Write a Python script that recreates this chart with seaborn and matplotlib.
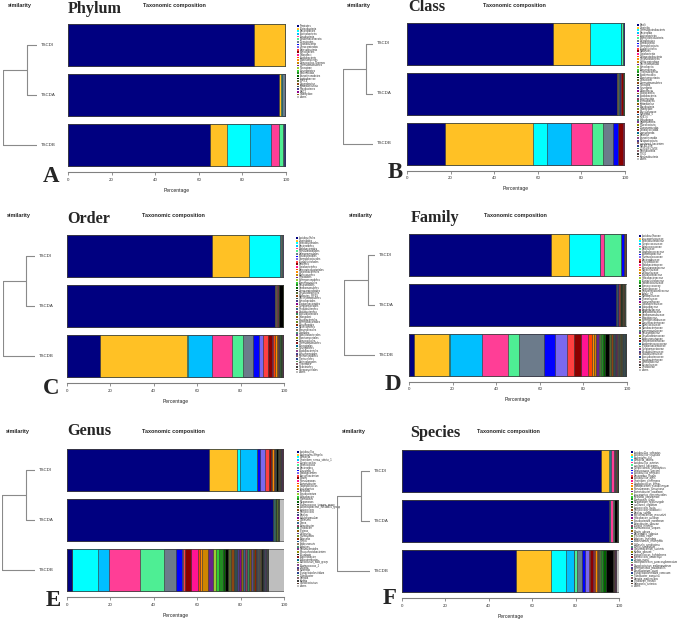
import pandas as pd
import matplotlib
matplotlib.use("Agg")
import matplotlib.pyplot as plt
import seaborn as sns

# ----------------------------------
# Samples and colours
# ----------------------------------
samples = ["TSCDI", "TSCDA", "TSCDB"]

base_colors = [
    "#000080", "#FFC125", "#00FFFF", "#00BFFF", "#FF3E96", "#4EEE94", "#6C7B8B", "#0000FF", "#7B68EE", "#FF4040",
    "#8B0000", "#FF1493", "#FF4500", "#FF8C00", "#CD8500", "#68228B", "#9ACD32", "#32CD32", "#228B22", "#006400",
    "#000000", "#556B2F", "#8B4513", "#2F4F4F", "#483D8B", "#8B008B", "#8B6914", "#36648B", "#8B3A62", "#2E8B57",
    "#8B5A00", "#5D478B", "#698B22", "#8B2500", "#104E8B", "#8B7355", "#458B74", "#7A378B", "#8B8B00", "#1C1C1C",
    "#8B1A1A", "#00688B", "#6E8B3D", "#8B4789", "#473C8B", "#8B5F65", "#27408B", "#548B54", "#8B636C", "#3D3D3D",
    "#5C4033",
]
others_color = "#BEBEBE"

# ----------------------------------
# Phylum
# ----------------------------------
phylum_taxa = [
    "Firmicutes", "Proteobacteria", "Bacteroidetes", "Actinobacteria", "Fusobacteria",
    "Epsilonbacteraeota", "Tenericutes", "Cyanobacteria", "Verrucomicrobia", "Patescibacteria",
    "Spirochaetes", "Chloroflexi", "Acidobacteria", "Planctomycetes", "Deinococcus-Thermus",
    "Gemmatimonadetes", "Nitrospirae", "Synergistetes", "Elusimicrobia", "Armatimonadetes",
    "Lentisphaerae", "WPS-2", "Dependentiae", "Kiritimatiellaeota", "Fibrobacteres",
    "BRC1", "Chlamydiae", "others",
]
phylum_tscdi = [85.2, 14.2, 0.05, 0.06, 0.04, 0.05, 0.1, 0.02, 0.02, 0.02,
                0.01, 0.01, 0.01, 0.01, 0.01, 0.01, 0.01, 0.01, 0.01, 0.01,
                0.01, 0.01, 0.01, 0.01, 0.01, 0.01, 0.01, 0.07]
phylum_tscda = [97.0, 0.9, 0.1, 0.15, 0.05, 0.05, 1.4, 0.05, 0.03, 0.02,
                0.01, 0.01, 0.01, 0.01, 0.01, 0.01, 0.01, 0.01, 0.01, 0.01,
                0.01, 0.01, 0.01, 0.01, 0.01, 0.01, 0.01, 0.08]
phylum_tscdb = [65.2, 7.6, 10.9, 9.2, 4.0, 1.6, 0.6, 0.3, 0.2, 0.1,
                0.01, 0.01, 0.01, 0.01, 0.01, 0.01, 0.01, 0.01, 0.01, 0.01,
                0.01, 0.01, 0.01, 0.01, 0.01, 0.01, 0.01, 0.13]

# ----------------------------------
# Class
# ----------------------------------
class_taxa = [
    "Bacilli", "Clostridia", "Gammaproteobacteria", "Bacteroidia", "Actinobacteria",
    "Alphaproteobacteria", "Negativicutes", "Fusobacteriia", "Campylobacteria", "Erysipelotrichia",
    "Mollicutes", "Coriobacteriia", "Deltaproteobacteria", "Oxyphotobacteria", "Verrucomicrobiae",
    "Saccharimonadia", "Spirochaetia", "Anaerolineae", "Thermoleophilia", "Acidimicrobiia",
    "Planctomycetacia", "Deinococci", "Gemmatimonadetes", "Nitrospira", "Synergistia",
    "Chloroflexia", "Blastocatellia", "Acidobacteriia", "Elusimicrobia", "Lentisphaeria",
    "Kiritimatiellae", "Fibrobacteria", "Chlamydiae", "Phycisphaerae", "Subgroup_6",
    "KD4-96", "Holophagae", "Ignavibacteria", "Rubrobacteria", "Thermomicrobia",
    "Dehalococcoidia", "Limnochordia", "Babeliae", "Armatimonadia", "Melainabacteria",
    "uncultured_bacterium", "MB-A2-108", "JG30-KF-CM66", "Parcubacteria", "TK10",
    "Ktedonobacteria", "others",
]
class_tscdi = [67.0, 17.0, 14.0, 0.1, 0.1, 1.0, 0.1, 0.05, 0.3, 0.05,
               0.05, 0.02, 0.02, 0.01, 0.01, 0.01, 0.01, 0.01, 0.01, 0.01,
               0.01, 0.01, 0.01, 0.01, 0.01, 0.005, 0.005, 0.005, 0.005, 0.005,
               0.005, 0.005, 0.005, 0.005, 0.005, 0, 0, 0, 0, 0,
               0, 0, 0, 0, 0, 0, 0, 0, 0, 0,
               0, 0.04]
class_tscda = [96.5, 0.3, 0.2, 0.1, 0.05, 0.1, 0.2, 0.05, 0.05, 0.7,
               0.8, 0.1, 0.05, 0.05, 0.02, 0.02, 0.02, 0.02, 0.02, 0.3,
               0.1, 0.05, 0.05, 0.02, 0.02, 0.01, 0.01, 0.01, 0.01, 0.01,
               0.01, 0.01, 0.01, 0, 0, 0, 0, 0, 0, 0,
               0, 0, 0, 0, 0, 0, 0, 0, 0, 0,
               0, 0.03]
class_tscdb = [17.5, 40.3, 6.5, 11.0, 9.5, 5.0, 4.5, 2.3, 0.2, 0.2,
               2.0, 0.4, 0.05, 0.05, 0.05, 0.05, 0.03, 0.03, 0.02, 0.02,
               0.1, 0.02, 0.02, 0.02, 0.01, 0.01, 0.01, 0.01, 0.01, 0.01,
               0.01, 0.01, 0.01, 0.01, 0, 0, 0, 0, 0, 0,
               0, 0, 0, 0, 0, 0, 0, 0, 0, 0,
               0, 0.04]

# ----------------------------------
# Order
# ----------------------------------
order_taxa = [
    "Lactobacillales", "Clostridiales", "Enterobacteriales", "Bacteroidales", "Bifidobacteriales",
    "Pseudomonadales", "Selenomonadales", "Fusobacteriales", "Campylobacterales", "Erysipelotrichales",
    "Bacillales", "Coriobacteriales", "Betaproteobacteriales", "Corynebacteriales", "Micrococcales",
    "Rhizobiales", "Sphingomonadales", "Aeromonadales", "Pasteurellales", "Xanthomonadales",
    "Verrucomicrobiales", "Desulfovibrionales", "Mollicutes_RF39", "Saccharimonadales", "Spirochaetales",
    "Propionibacteriales", "Streptomycetales", "Rhodobacterales", "Caulobacterales", "Acetobacterales",
    "Chloroplast", "Flavobacteriales", "Sphingobacteriales", "Cytophagales", "Myxococcales",
    "Anaerolineales", "Gaiellales", "Solirubrobacterales", "Planctomycetales", "Deinococcales",
    "Gemmatimonadales", "Nitrospirales", "Synergistales", "Acidobacteriales", "Haloplasmatales",
    "Pyrinomonadales", "Tissierellales", "Chitinophagales", "Thermales", "Rickettsiales",
    "Oceanospirillales", "others",
]
order_tscdi = [67.0, 17.0, 14.0, 0.1, 0.3, 0.7, 0.1, 0.05, 0.2, 0.05,
               0.05, 0.05, 0.03, 0.03, 0.02, 0.02, 0.02, 0.02, 0.02, 0.02,
               0.05, 0.01, 0.01, 0.01, 0.01, 0.01, 0.01, 0.01, 0.01, 0.01,
               0.01, 0.01, 0.01, 0.005, 0.005, 0, 0, 0, 0, 0,
               0, 0, 0, 0, 0, 0, 0, 0, 0, 0,
               0, 0.01]
order_tscda = [96.0, 0.2, 0.1, 0.05, 0.5, 0.05, 0.05, 0.02, 0.02, 0.05,
               0.1, 0.05, 0.05, 0.05, 0.03, 0.03, 0.02, 0.02, 0.02, 0.3,
               2.0, 0.1, 0.05, 0.02, 0.02, 0.01, 0.01, 0.01, 0.01, 0.01,
               0.01, 0.01, 0.01, 0.01, 0, 0, 0, 0, 0, 0,
               0, 0, 0, 0, 0, 0, 0, 0, 0, 0,
               0, 0.02]
order_tscdb = [15.0, 40.5, 0.3, 11.2, 9.0, 5.0, 4.5, 3.0, 2.0, 2.0,
               2.0, 0.3, 1.0, 1.0, 0.4, 0.4, 0.2, 0.2, 0.2, 0.2,
               0.3, 0.2, 0.2, 0.1, 0.1, 0.1, 0.05, 0.05, 0.05, 0.05,
               0.05, 0.05, 0.03, 0.03, 0.02, 0.02, 0.02, 0.02, 0.01, 0.01,
               0.01, 0.01, 0.01, 0.01, 0, 0, 0, 0, 0, 0,
               0, 0.1]

# ----------------------------------
# Family
# ----------------------------------
family_taxa = [
    "Lactobacillaceae", "Leuconostocaceae", "Enterobacteriaceae", "Streptococcaceae", "Enterococcaceae",
    "Bacillaceae", "Staphylococcaceae", "Lachnospiraceae", "Ruminococcaceae", "Bacteroidaceae",
    "Prevotellaceae", "Bifidobacteriaceae", "Pseudomonadaceae", "Moraxellaceae", "Veillonellaceae",
    "Fusobacteriaceae", "Helicobacteraceae", "Erysipelotrichaceae", "Carnobacteriaceae", "Aerococcaceae",
    "Clostridiaceae_1", "Peptostreptococcaceae", "Family_XI", "Muribaculaceae", "Rikenellaceae",
    "Tannerellaceae", "Coriobacteriaceae", "Atopobiaceae", "Eggerthellaceae", "Burkholderiaceae",
    "Xanthomonadaceae", "Rhizobiaceae", "Sphingomonadaceae", "Corynebacteriaceae", "Micrococcaceae",
    "Microbacteriaceae", "Aeromonadaceae", "Pasteurellaceae", "Desulfovibrionaceae", "Akkermansiaceae",
    "Christensenellaceae", "Acidaminococcaceae", "Propionibacteriaceae", "Streptomycetaceae", "Rhodobacteraceae",
    "Caulobacteraceae", "Acetobacteraceae", "Flavobacteriaceae", "Weeksellaceae", "Nocardiaceae",
    "Dietziaceae", "others",
]
family_tscdi = [65.2, 8.3, 14.0, 0.3, 1.5, 8.0, 0.1, 1.0, 0.1, 0.05,
                0.05, 0.05, 0.05, 0.4, 0.2, 0.05, 0.05, 0.05, 0.03, 0.03,
                0.2, 0.02, 0.02, 0.02, 0.02, 0.01, 0.01, 0.01, 0.01, 0.01,
                0.01, 0.01, 0.01, 0.01, 0.01, 0.005, 0.005, 0, 0, 0,
                0, 0, 0, 0, 0, 0, 0, 0, 0, 0,
                0, 0.02]
family_tscda = [95.0, 0.1, 0.05, 0.05, 0.3, 0.05, 0.05, 0.05, 0.05, 0.05,
                0.3, 0.5, 0.05, 0.05, 0.05, 0.1, 0.05, 0.1, 0.05, 0.3,
                0.6, 0.3, 0.2, 0.1, 0.1, 0.1, 0.05, 0.05, 0.05, 0.05,
                0.03, 0.03, 0.02, 0.02, 0.02, 0.02, 0.01, 0.01, 0.01, 0.01,
                0.01, 0.01, 0, 0, 0, 0, 0, 0, 0, 0,
                0, 0.9]
family_tscdb = [2.5, 16.0, 0.4, 14.6, 12.0, 5.0, 11.5, 5.0, 5.5, 3.0,
                3.5, 3.0, 2.0, 1.0, 0.8, 1.2, 0.7, 0.6, 0.8, 1.0,
                1.5, 1.2, 1.0, 0.8, 0.5, 0.4, 0.4, 0.3, 0.3, 0.3,
                0.3, 0.3, 0.2, 0.2, 0.2, 0.2, 0.2, 0.1, 0.1, 0.1,
                0.1, 0.1, 0.1, 0.05, 0.05, 0.05, 0.05, 0.05, 0.05, 0.05,
                0.05, 0.6]

# ----------------------------------
# Genus
# ----------------------------------
genus_taxa = [
    "Lactobacillus", "Escherichia-Shigella", "Weissella", "Clostridium_sensu_stricto_1", "Streptococcus",
    "Enterococcus", "Bacteroides", "Prevotella_9", "Bifidobacterium", "Faecalibacterium",
    "Blautia", "Pseudomonas", "Acinetobacter", "Staphylococcus", "Leuconostoc",
    "Klebsiella", "Fusobacterium", "Helicobacter", "Romboutsia", "Megamonas",
    "Ruminococcus_torques_group", "Lachnospiraceae_NK4A136_group", "Lactococcus", "Pediococcus", "Bacillus",
    "Subdoligranulum", "Collinsella", "Dorea", "Enterobacter", "Citrobacter",
    "Proteus", "Veillonella", "Haemophilus", "Neisseria", "Rothia",
    "Akkermansia", "Alistipes", "Parabacteroides", "Phascolarctobacterium", "Roseburia",
    "Agathobacter", "Fusicatenibacter", "Eubacterium_hallii_group", "Ruminococcus_2", "Dialister",
    "Sutterella", "Erysipelatoclostridium", "Turicibacter", "Serratia", "Kurthia",
    "Carnobacterium", "others",
]
genus_tscdi = [65.3, 12.9, 1.6, 7.8, 0.0, 0.0, 0.0, 1.4, 2.3, 1.7,
               1.0, 0.2, 0.5, 0.5, 0.3, 0.3, 0.1, 0.1, 0.1, 0.2,
               0.8, 0.6, 0.5, 0.3, 0.3, 0.2, 0.2, 0.1, 0.1, 0.1,
               0.05, 0.05, 0.05, 0.05, 0.05, 0.05, 0.02, 0.02, 0.02, 0.02,
               0.02, 0.02, 0.01, 0.01, 0.01, 0.01, 0.01, 0.01, 0, 0,
               0, 0.02]
genus_tscda = [94.8, 0.05, 0.7, 0.05, 0, 0.05, 0, 0, 0.02, 0.02,
               0.02, 0.02, 0.02, 0.02, 0.02, 0.02, 0.02, 0.02, 0.02, 0.3,
               0.3, 0.7, 0.1, 0.05, 0.05, 0.02, 0.02, 0.02, 0.02, 0.02,
               0.01, 0.01, 0.01, 0.01, 0.01, 0.01, 0, 0, 0, 0,
               0, 0, 0, 0, 0, 0, 0, 0, 0, 0,
               0, 2.5]
genus_tscdb = [2.5, 0.0, 12.0, 5.0, 14.0, 11.0, 5.7, 2.6, 0.7, 1.0,
               2.5, 3.3, 1.0, 1.0, 2.5, 2.4, 1.5, 1.5, 1.5, 1.2,
               1.5, 1.4, 1.3, 1.2, 1.1, 1.0, 0.9, 0.9, 0.9, 0.8,
               0.8, 0.8, 0.8, 0.6, 0.6, 0.6, 0.5, 0.5, 0.5, 0.5,
               0.3, 0.3, 0.3, 0.3, 0.2, 0.2, 0.2, 0.2, 0.2, 0.2,
               0.2, 7.3]

# ----------------------------------
# Species
# ----------------------------------
species_taxa = [
    "Lactobacillus_salivarius", "Lactobacillus_crispatus", "Escherichia_coli", "Weissella_cibaria",
    "Lactobacillus_aviarius", "uncultured_bacterium", "Streptococcus_alactolyticus", "Enterococcus_faecium",
    "Lactobacillus_johnsonii", "Bacteroides_fragilis", "Lactobacillus_agilis", "Clostridium_perfringens",
    "Staphylococcus_lentus", "Bifidobacterium_pseudolongum", "Pseudomonas_aeruginosa", "Acinetobacter_baumannii",
    "Leuconostoc_mesenteroides", "Klebsiella_pneumoniae", "Romboutsia_ilealis", "Megamonas_hypermegale",
    "uncultured_organism", "Lactococcus_lactis", "Pediococcus_acidilactici", "Bacillus_subtilis",
    "Faecalibacterium_prausnitzii", "Helicobacter_pullorum", "Fusobacterium_mortiferum", "Enterobacter_cloacae",
    "Proteus_mirabilis", "Ruminococcus_torques", "Blautia_obeum", "Bacteroides_vulgatus",
    "Prevotella_copri", "Alistipes_putredinis", "Akkermansia_muciniphila", "Collinsella_aerofaciens",
    "Rothia_nasimurium", "Corynebacterium_stationis", "Kurthia_gibsonii", "Jeotgalicoccus_halotolerans",
    "Aerococcus_urinaeequi", "Dietzia_maris", "Brachybacterium_paraconglomeratum", "Carnobacterium_maltaromaticum",
    "Sphingomonas_paucimobilis", "Brevibacterium_casei", "Erysipelatoclostridium_ramosum", "Turicibacter_sanguinis",
    "Serratia_marcescens", "Citrobacter_freundii", "Salmonella_enterica", "others",
]
species_tscdi = [91.8, 3.5, 0.5, 0.6, 1.1, 0.3, 0.3, 0.1, 0.1, 0.1,
                 0.1, 0.05, 0.05, 0.05, 0.05, 0.05, 0.05, 0.05, 0.05, 0.05,
                 0.6, 0.1, 0.05, 0.05, 0.05, 0.02, 0.02, 0.02, 0.02, 0.02,
                 0.01, 0.01, 0.01, 0.01, 0.01, 0.01, 0.01, 0.01, 0, 0,
                 0, 0, 0, 0, 0, 0, 0, 0, 0, 0,
                 0, 0.04]
species_tscda = [95.2, 0.05, 0.5, 0.3, 1.4, 0.05, 0.05, 0.02, 0.02, 0.02,
                 0.02, 0.02, 0.02, 0.02, 0.02, 0.02, 0.02, 0.02, 0.02, 0.1,
                 1.0, 0.2, 0.05, 0.05, 0.02, 0.02, 0.02, 0.02, 0.02, 0.02,
                 0.01, 0.01, 0.01, 0.01, 0.01, 0, 0, 0, 0, 0,
                 0, 0, 0, 0, 0, 0, 0, 0, 0, 0,
                 0, 0.65]
species_tscdb = [52.7, 15.8, 7.2, 3.5, 0.0, 1.5, 2.1, 1.7, 1.5, 0.8,
                 1.2, 0.5, 0.6, 0.6, 0.8, 0.5, 0.4, 0.4, 0.8, 1.3,
                 3.2, 0.2, 0.2, 0.2, 0.2, 0.05, 0.05, 0.05, 0.05, 0.05,
                 0.05, 0.05, 0.05, 0.02, 0.02, 0.02, 0.02, 0.02, 0.02, 0.02,
                 0.01, 0.01, 0.01, 0.01, 0.01, 0.01, 0, 0, 0, 0,
                 0, 1.5]

# ----------------------------------
# Clustering (distance of merges)
# ----------------------------------
dend_merge = [0.13, 0.16, 0.17, 0.19, 0.22, 0.20]   # TSCDI + TSCDA
dend_root = [0.45, 0.70, 0.62, 0.82, 0.80, 0.74]    # + TSCDB

levels = ["Phylum", "Class", "Order", "Family", "Genus", "Species"]
letters = ["A", "B", "C", "D", "E", "F"]
level_taxa = [phylum_taxa, class_taxa, order_taxa, family_taxa, genus_taxa, species_taxa]
level_values = [
    [phylum_tscdi, phylum_tscda, phylum_tscdb],
    [class_tscdi, class_tscda, class_tscdb],
    [order_tscdi, order_tscda, order_tscdb],
    [family_tscdi, family_tscda, family_tscdb],
    [genus_tscdi, genus_tscda, genus_tscdb],
    [species_tscdi, species_tscda, species_tscdb],
]

# ----------------------------------
# Layout in pixels (685 x 620 canvas)
# bar x0, bar x1, axes top, dendro x0, dendro x1, legend x, first legend row y,
# title xy, "Taxonomic composition" xy, "similarity" xy, letter xy
# ----------------------------------
W, H = 685, 620
ROW = 2.63  # legend row pitch in px
layout = [
    (68, 286, 20, 3, 37, 298, 26, (68, 9), (143, 5.5), (8, 5.5), (43, 176)),
    (407, 625, 18.5, 343, 373, 638, 25, (408, 7), (483, 5), (347, 5), (388, 173)),
    (67, 284, 231, 3, 35, 297, 238, (67, 219), (142, 216), (7, 216), (43, 389)),
    (409, 627, 229.5, 344, 375, 640, 236, (411, 218), (484, 215), (349, 215), (385, 385)),
    (67, 284, 445, 2, 35, 298, 452, (67, 431), (142, 431), (6, 431), (46, 601)),
    (402, 619, 446, 337, 370, 632, 452, (410, 433), (477, 431), (342, 431), (383, 599)),
]

sns.set_style("white")
plt.rcParams["font.family"] = ["Liberation Sans", "DejaVu Sans"]

fig = plt.figure(figsize=(W / 100, H / 100), dpi=100)


def box(x0, x1, y0, y1):
    return [x0 / W, 1 - y1 / H, (x1 - x0) / W, (y1 - y0) / H]


for k, level in enumerate(levels):
    bx0, bx1, top, dx0, dx1, lx, ly0, t_xy, tc_xy, sim_xy, let_xy = layout[k]
    taxa = level_taxa[k]
    colors = base_colors[:len(taxa) - 1] + [others_color]

    df = pd.DataFrame(dict(zip(samples, level_values[k])), index=taxa)
    cum = df.cumsum()

    # stacked bars: draw cumulative totals from the last taxon to the first
    ax = fig.add_axes(box(bx0, bx1, top, top + 150))
    for i in range(len(taxa) - 1, -1, -1):
        sns.barplot(x=cum.iloc[i].values, y=samples, color=colors[i], saturation=1,
                    orient="h", width=0.84, errorbar=None, edgecolor="#3a3a3a",
                    linewidth=0.45, ax=ax)
    ax.set_xlim(0, 100)
    ax.set_ylim(2.5, -0.5)
    ax.set_yticks([])
    ax.set_ylabel("")
    for side in ["top", "right", "left"]:
        ax.spines[side].set_visible(False)
    ax.spines["bottom"].set_position(("outward", 1.5))
    ax.spines["bottom"].set_bounds(0, 100)
    ax.spines["bottom"].set_color("#808080")
    ax.spines["bottom"].set_linewidth(0.8)
    ax.set_xticks([0, 20, 40, 60, 80, 100])
    ax.tick_params(axis="x", bottom=True, length=2, width=0.6, color="#808080",
                   labelsize=3.2, labelcolor="#333333", pad=2)
    ax.set_xlabel("Percentage", fontsize=3.6, color="#222222", labelpad=4.5)

    # dendrogram
    dax = fig.add_axes(box(dx0, dx1, top, top + 150), sharey=ax)
    m, r = dend_merge[k], dend_root[k]
    lc = dict(color="#8a8a8a", lw=0.8)
    dax.plot([0, m], [0, 0], **lc)
    dax.plot([0, m], [1, 1], **lc)
    dax.plot([m, m], [0, 1], **lc)
    dax.plot([m, r], [0.5, 0.5], **lc)
    dax.plot([0, r], [2, 2], **lc)
    dax.plot([r, r], [0.5, 2], **lc)
    dax.set_xlim(r, 0)
    dax.axis("off")
    for j, s in enumerate(samples):
        dax.annotate(s, (0, j), xytext=(2.5, 0), textcoords="offset points",
                     ha="left", va="center", fontsize=3.2, color="#333333",
                     annotation_clip=False)

    # titles
    fig.text(t_xy[0] / W, 1 - t_xy[1] / H, level, fontsize=11.7, fontweight="bold",
             family=["Liberation Serif", "DejaVu Serif"], ha="left", va="center")
    fig.text(tc_xy[0] / W, 1 - tc_xy[1] / H, "Taxonomic composition", fontsize=4,
             fontweight="bold", ha="left", va="center")
    fig.text(sim_xy[0] / W, 1 - sim_xy[1] / H, "similarity", fontsize=4,
             fontweight="bold", ha="left", va="center")
    fig.text(let_xy[0] / W, 1 - let_xy[1] / H, letters[k], fontsize=16.5, fontweight="bold",
             family=["Liberation Serif", "DejaVu Serif"], ha="left", va="center")

    # legend: one row per taxon, 2.63 px apart
    n = len(taxa)
    lax = fig.add_axes(box(lx - 2, lx + 40, ly0 - ROW / 2, ly0 + (n - 0.5) * ROW))
    lax.set_xlim(-2, 40)
    lax.set_ylim(n - 0.5, -0.5)
    lax.axis("off")
    lax.scatter([0] * n, list(range(n)), marker="s", s=1.6, c=colors, linewidths=0)
    for i, t in enumerate(taxa):
        lax.text(2.2, i, t, fontsize=1.9, color="#333333", ha="left", va="center",
                 clip_on=False)

fig.savefig("out.png", dpi=100)
